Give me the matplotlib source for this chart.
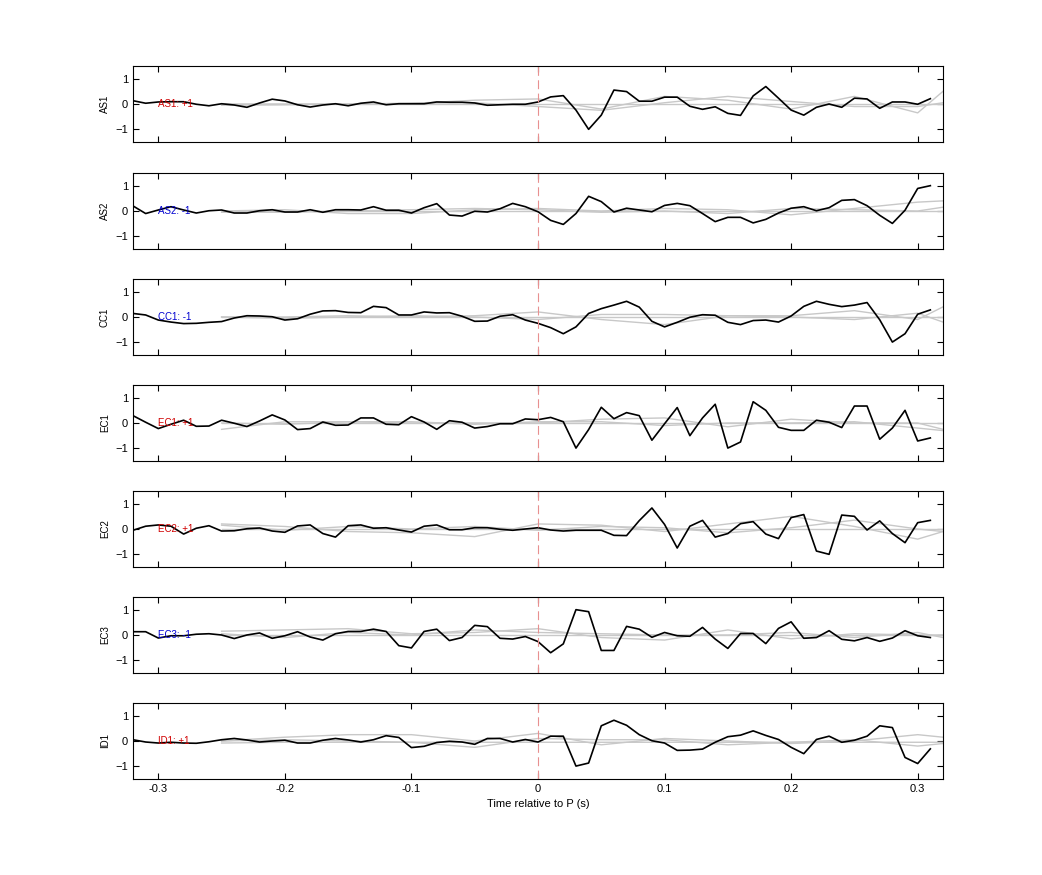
import matplotlib
matplotlib.use("Agg")
import matplotlib.pyplot as plt
import numpy as np

plt.rcParams['font.family'] = ['Liberation Sans', 'DejaVu Sans']

# 时间轴 (s)
t = np.round(np.arange(-0.32, 0.315, 0.01), 2)

channels = ["AS1", "AS2", "CC1", "EC1", "EC2", "EC3", "ID1"]
signs = ["+1", "-1", "-1", "+1", "+1", "-1", "+1"]
label_colors = ["#d00000", "#0000d0", "#0000d0", "#d00000", "#d00000", "#0000d0", "#d00000"]

as1 = [0.13, 0.03, 0.08, 0.09, 0.09, -0.01, -0.07, 0.01, -0.04, -0.13, 0.04, 0.19, 0.12, -0.03,
       -0.12, -0.04, 0.01, -0.07, 0.03, 0.08, -0.03, 0.01, 0.01, 0.01, 0.08, 0.07, 0.07, 0.04,
       -0.05, -0.03, -0.01, -0.01, 0.08, 0.28, 0.33, -0.24, -1.0, -0.44, 0.55, 0.49, 0.11, 0.11,
       0.27, 0.27, -0.09, -0.21, -0.11, -0.37, -0.45, 0.32, 0.69, 0.23, -0.24, -0.44, -0.13, 0.0,
       -0.13, 0.23, 0.2, -0.17, 0.08, 0.08, -0.01, 0.21]
as2 = [0.2, -0.1, 0.04, 0.17, 0.04, -0.08, 0.01, 0.04, -0.08, -0.08, 0.01, 0.05, -0.04, -0.04,
       0.05, -0.05, 0.05, 0.05, 0.04, 0.17, 0.03, 0.03, -0.08, 0.13, 0.29, -0.16, -0.2, -0.01,
       -0.04, 0.09, 0.3, 0.17, -0.03, -0.37, -0.53, -0.1, 0.58, 0.37, -0.04, 0.11, 0.04, -0.03,
       0.22, 0.3, 0.21, -0.1, -0.42, -0.25, -0.25, -0.47, -0.33, -0.08, 0.11, 0.17, 0.01, 0.13,
       0.42, 0.45, 0.21, -0.17, -0.49, 0.03, 0.89, 1.0]
cc1 = [0.14, 0.08, -0.12, -0.2, -0.26, -0.25, -0.21, -0.18, -0.04, 0.05, 0.04, 0.01, -0.12, -0.07,
       0.11, 0.24, 0.25, 0.18, 0.17, 0.42, 0.37, 0.08, 0.08, 0.2, 0.16, 0.17, 0.03, -0.17, -0.16,
       0.03, 0.09, -0.12, -0.25, -0.42, -0.66, -0.39, 0.14, 0.33, 0.47, 0.62, 0.39, -0.17, -0.39,
       -0.21, -0.01, 0.09, 0.07, -0.21, -0.3, -0.14, -0.12, -0.2, 0.04, 0.42, 0.62, 0.5, 0.41,
       0.47, 0.57, -0.11, -0.99, -0.66, 0.11, 0.28]
ec1 = [0.29, 0.03, -0.22, -0.05, 0.11, -0.13, -0.12, 0.11, -0.01, -0.14, 0.08, 0.32, 0.12, -0.26,
       -0.22, 0.04, -0.09, -0.08, 0.2, 0.2, -0.05, -0.07, 0.25, 0.04, -0.25, 0.09, 0.03, -0.2,
       -0.14, -0.03, -0.03, 0.16, 0.13, 0.22, 0.05, -0.99, -0.26, 0.62, 0.17, 0.41, 0.29, -0.68,
       -0.03, 0.61, -0.5, 0.2, 0.74, -0.99, -0.75, 0.84, 0.5, -0.17, -0.29, -0.29, 0.11, 0.03,
       -0.18, 0.67, 0.67, -0.64, -0.2, 0.5, -0.71, -0.59]
ec2 = [-0.05, 0.11, 0.16, 0.11, -0.2, 0.03, 0.13, -0.08, -0.07, 0.01, 0.04, -0.08, -0.13, 0.12,
       0.16, -0.18, -0.32, 0.13, 0.16, 0.03, 0.05, -0.04, -0.12, 0.11, 0.16, -0.03, -0.03, 0.05,
       0.05, -0.01, -0.05, 0.0, 0.05, -0.04, -0.08, -0.05, -0.05, -0.05, -0.25, -0.26, 0.33, 0.83,
       0.18, -0.75, 0.11, 0.34, -0.32, -0.18, 0.21, 0.29, -0.2, -0.38, 0.45, 0.57, -0.87, -1.0,
       0.55, 0.5, -0.04, 0.32, -0.18, -0.54, 0.25, 0.34]
ec3 = [0.13, 0.13, -0.12, -0.03, -0.03, 0.03, 0.05, 0.0, -0.14, 0.0, 0.08, -0.13, -0.03, 0.13,
       -0.08, -0.2, 0.05, 0.14, 0.14, 0.23, 0.14, -0.42, -0.51, 0.14, 0.23, -0.22, -0.1, 0.38,
       0.33, -0.13, -0.16, -0.06, -0.26, -0.7, -0.35, 1.0, 0.92, -0.61, -0.61, 0.34, 0.23, -0.09,
       0.1, -0.03, -0.05, 0.3, -0.16, -0.53, 0.06, 0.06, -0.34, 0.26, 0.52, -0.13, -0.1, 0.17,
       -0.17, -0.23, -0.1, -0.25, -0.12, 0.17, -0.03, -0.1]
id1 = [0.05, -0.04, -0.08, -0.05, -0.08, -0.09, -0.03, 0.05, 0.1, 0.04, -0.04, 0.0, 0.03, -0.08,
       -0.08, 0.03, 0.1, 0.04, -0.04, 0.05, 0.21, 0.14, -0.26, -0.21, -0.06, -0.01, -0.04, -0.13,
       0.1, 0.1, -0.04, 0.06, -0.04, 0.19, 0.19, -0.99, -0.87, 0.6, 0.82, 0.62, 0.25, 0.01, -0.08,
       -0.37, -0.36, -0.32, -0.05, 0.17, 0.23, 0.4, 0.22, 0.06, -0.25, -0.5, 0.06, 0.19, -0.05,
       0.03, 0.19, 0.6, 0.53, -0.65, -0.89, -0.31]
signals = [as1, as2, cc1, ec1, ec2, ec3, id1]

# 灰色背景曲线（粗采样）
tg = [-0.25, -0.20, -0.15, -0.10, -0.05, 0.0, 0.05, 0.10, 0.15, 0.20, 0.25, 0.30, 0.32]
gray = [
    [[0.0, 0.0, 0.0, 0.02, 0.15, 0.2, -0.2, 0.3, 0.15, -0.2, 0.3, -0.35, 0.5],
     [-0.05, -0.03, 0.0, 0.03, 0.05, -0.1, -0.25, 0.05, 0.3, 0.1, -0.1, -0.1, 0.05],
     [0.0, 0.0, 0.0, 0.0, 0.0, 0.0, 0.0, 0.0, 0.0, 0.0, 0.0, 0.0, 0.0]],
    [[-0.05, -0.05, 0.0, 0.05, 0.1, 0.05, -0.05, 0.0, -0.1, 0.1, 0.05, 0.0, 0.15],
     [0.0, 0.05, -0.1, -0.1, 0.05, 0.1, 0.0, 0.1, 0.05, -0.15, 0.1, 0.35, 0.4],
     [0.0, 0.0, 0.0, 0.0, 0.0, 0.0, 0.0, 0.0, 0.0, 0.0, 0.0, 0.0, 0.0]],
    [[0.0, 0.0, 0.05, 0.0, 0.05, 0.2, -0.1, -0.3, 0.05, 0.05, 0.25, -0.1, 0.4],
     [0.0, -0.05, 0.0, 0.05, 0.0, -0.1, 0.1, 0.1, 0.05, 0.0, -0.1, 0.15, -0.2],
     [0.0, 0.0, 0.0, 0.0, 0.0, 0.0, 0.0, 0.0, 0.0, 0.0, 0.0, 0.0, 0.0]],
    [[-0.25, 0.05, 0.05, 0.0, 0.0, 0.0, 0.15, 0.2, -0.15, 0.15, 0.0, 0.0, -0.25],
     [0.0, -0.05, 0.05, 0.05, -0.05, 0.05, 0.05, -0.1, 0.0, 0.0, 0.05, -0.2, -0.3],
     [0.0, 0.0, 0.0, 0.0, 0.0, 0.0, 0.0, 0.0, 0.0, 0.0, 0.0, 0.0, 0.0]],
    [[0.2, 0.1, -0.1, -0.15, -0.3, 0.2, 0.15, -0.1, 0.2, 0.5, 0.1, -0.4, -0.1],
     [0.15, -0.05, 0.1, 0.0, 0.1, -0.05, 0.1, 0.05, -0.15, 0.05, 0.35, 0.0, -0.1],
     [0.0, 0.0, 0.0, 0.0, 0.0, 0.0, 0.0, 0.0, 0.0, 0.0, 0.0, 0.0, 0.0]],
    [[0.15, 0.2, 0.25, 0.05, 0.1, 0.25, -0.1, -0.2, 0.2, -0.15, 0.05, 0.0, 0.0],
     [0.05, -0.1, 0.1, 0.0, 0.2, 0.1, 0.05, 0.0, 0.0, 0.1, -0.1, 0.1, -0.1],
     [0.0, 0.0, 0.0, 0.0, 0.0, 0.0, 0.0, 0.0, 0.0, 0.0, 0.0, 0.0, 0.0]],
    [[0.0, 0.15, 0.25, 0.25, 0.0, 0.3, -0.15, 0.1, 0.0, -0.1, 0.0, 0.25, 0.15],
     [0.0, 0.05, 0.0, -0.05, -0.25, 0.1, 0.05, 0.05, -0.15, -0.05, 0.05, -0.2, -0.1],
     [-0.08, -0.05, -0.05, -0.05, -0.05, -0.05, -0.05, -0.05, -0.05, -0.05, -0.05, -0.05, -0.05]],
]

fig = plt.figure(figsize=(10.42, 8.75), dpi=100)
W, H = 1042, 875
tops = [66, 173, 279, 385, 491, 597, 703]
ph = 76
for k, ch in enumerate(channels):
    ax = fig.add_axes([133 / W, 1 - (tops[k] + ph) / H, 810 / W, ph / H])
    for g in gray[k]:
        ax.plot(tg, g, color="#c8c8c8", lw=1)
    ax.plot(t, signals[k], color="black", lw=1.2)
    ax.axvline(0, color="#e89090", lw=0.8, ls=(0, (8, 4)))
    ax.text(-0.30, 0, f"{ch}: {signs[k]}", color=label_colors[k], fontsize=7, va="center")
    ax.set_xlim(-0.32, 0.32)
    ax.set_ylim(-1.5, 1.5)
    ax.set_yticks([-1, 0, 1])
    ax.set_xticks([-0.3, -0.2, -0.1, 0, 0.1, 0.2, 0.3])
    ax.tick_params(direction="in", top=True, right=True, labelsize=8, length=4)
    ax.set_ylabel(ch, fontsize=7)
    if k < 6:
        ax.set_xticklabels([])
    else:
        ax.set_xticklabels(["-0.3", "-0.2", "-0.1", "0", "0.1", "0.2", "0.3"])
        ax.set_xlabel("Time relative to P (s)", fontsize=8)

fig.savefig("out.png", dpi=100)
